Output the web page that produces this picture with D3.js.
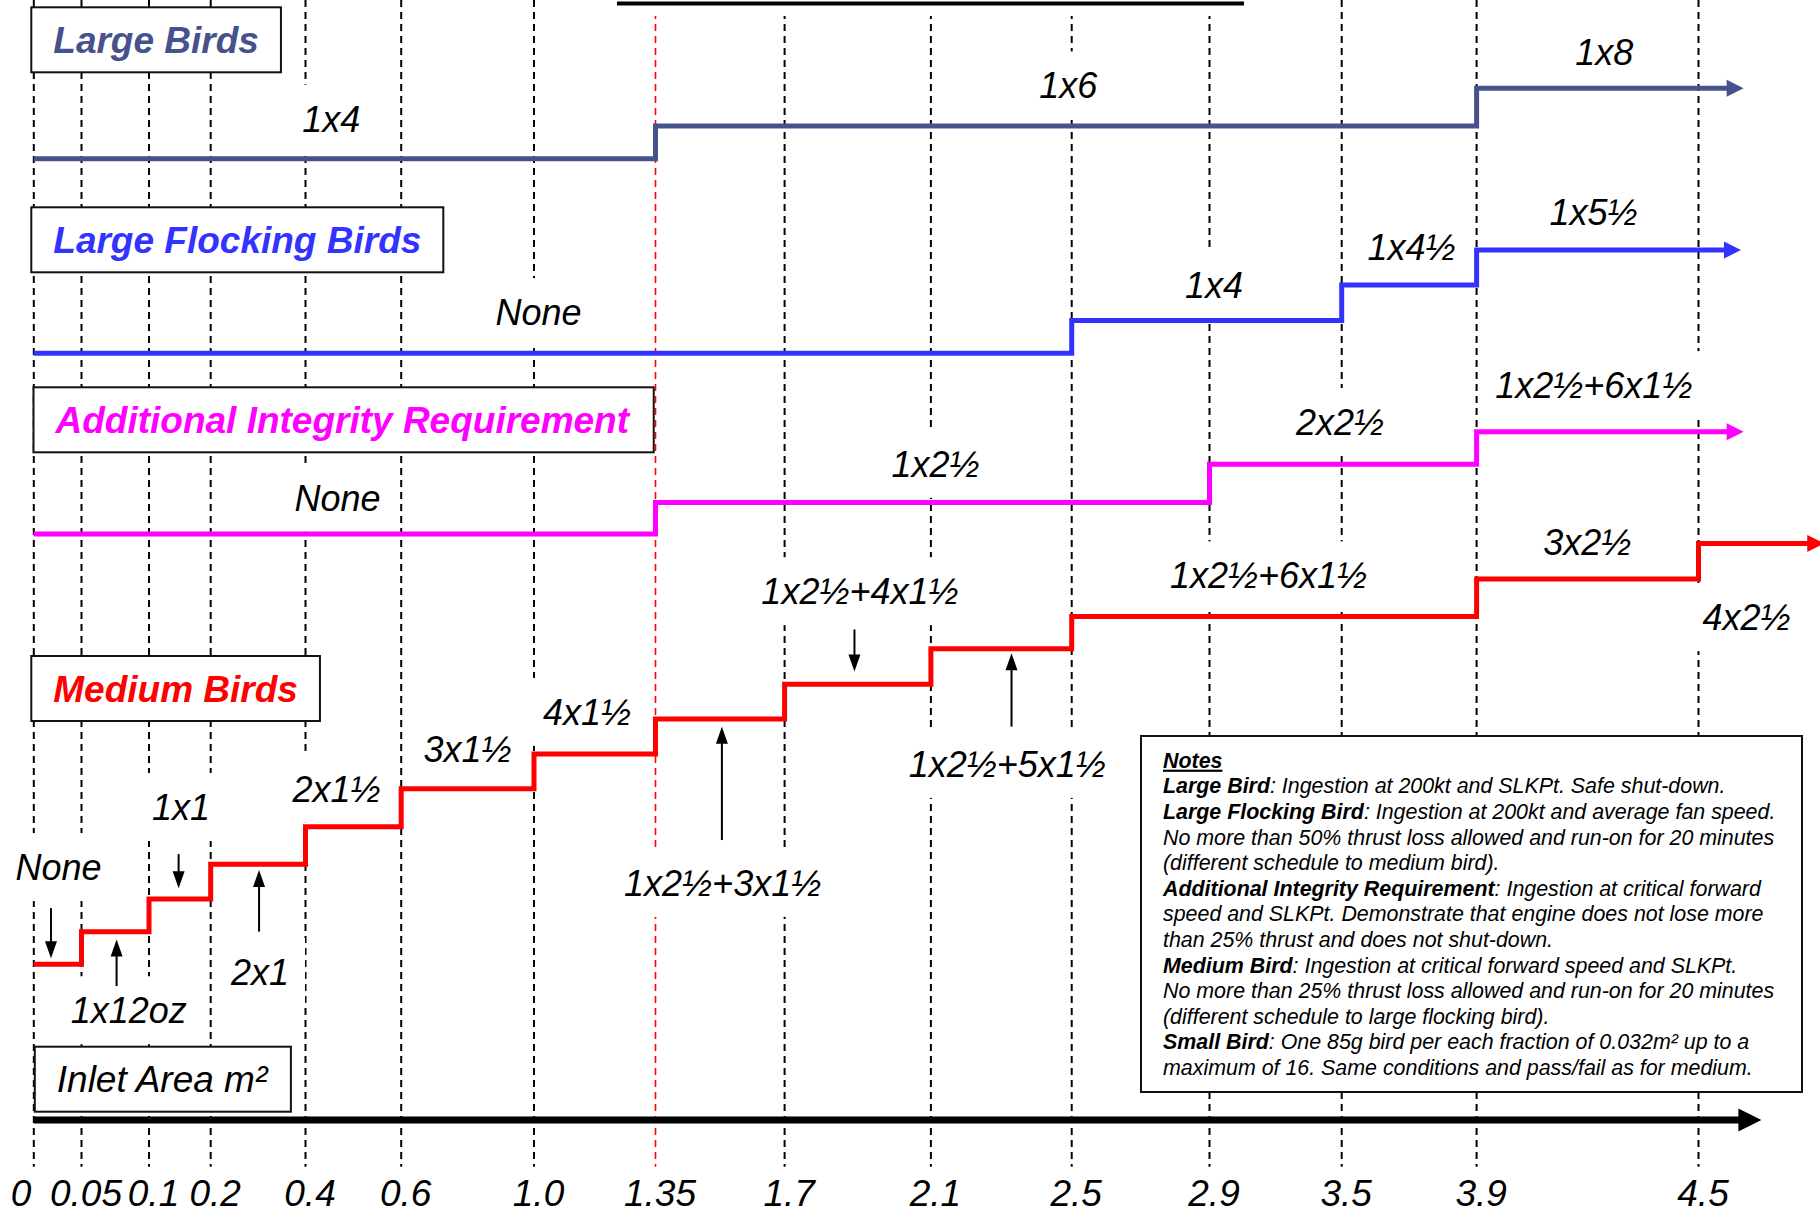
<!DOCTYPE html>
<html>
<head>
<meta charset="utf-8">
<script src="https://cdn.jsdelivr.net/npm/d3@7"></script>
<style>
html,body{margin:0;padding:0;background:#fff;}
svg{display:block;font-family:"Liberation Sans",Arial,sans-serif;}
</style>
</head>
<body>
<svg id="chart" width="1820" height="1218"></svg>
<script>
// ---------------- DATA ----------------
// Inlet area ticks (m²)
const areaTicks = [0, 0.05, 0.1, 0.2, 0.4, 0.6, 1.0, 1.35, 1.7, 2.1, 2.5, 2.9, 3.5, 3.9, 4.5];
const areaTickLabels = ["0", "0.05", "0.1", "0.2", "0.4", "0.6", "1.0", "1.35", "1.7", "2.1", "2.5", "2.9", "3.5", "3.9", "4.5"];
const highlightTick = 1.35;

// Step series: x = inlet area where the step starts, level = schematic level (arbitrary units)
const largeBirdX      = [0, 1.35, 3.9];
const largeBirdLevel  = [22.95, 23.88, 24.96];
const largeBirdEnd    = 4.622;

const flockingX       = [0, 2.5, 3.5, 3.9];
const flockingLevel   = [17.41, 18.34, 19.35, 20.35];
const flockingEnd     = 4.615;

const integrityX      = [0, 1.35, 2.9, 3.9];
const integrityLevel  = [12.26, 13.16, 14.25, 15.17];
const integrityEnd    = 4.622;

const mediumX         = [0, 0.05, 0.1, 0.2, 0.4, 0.6, 1.0, 1.35, 1.7, 2.1, 2.5, 3.9, 4.5];
const mediumLevel     = [0, 0.93, 1.86, 2.85, 3.92, 5.0, 5.99, 6.99, 7.98, 8.99, 9.91, 10.98, 11.99];
const mediumEnd       = 4.84;

// Step requirement labels (text, inlet area, level)
const stepLabelText  = ["1x4","1x6","1x8",
                        "None","1x4","1x4½","1x5½",
                        "None","1x2½","2x2½","1x2½+6x1½",
                        "None","1x12oz","1x1","2x1","2x1½","3x1½","4x1½",
                        "1x2½+3x1½","1x2½+4x1½","1x2½+5x1½","1x2½+6x1½","3x2½","4x2½"];
const stepLabelArea  = [0.454, 2.49, 4.245,
                        1.013, 2.92, 3.707, 4.216,
                        0.467, 2.113, 3.492, 4.217,
                        0.026, 0.085, 0.152, 0.304, 0.465, 0.8, 1.153,
                        1.532, 1.906, 2.317, 3.168, 4.199, 4.63];
const stepLabelLevel = [23.72, 24.67, 25.62,
                        18.21, 18.97, 20.07, 21.06,
                        12.92, 13.89, 15.08, 16.13,
                        2.40, -1.68, 4.11, -0.59, 4.63, 5.77, 6.82,
                        1.95, 10.26, 5.34, 10.71, 11.66, 9.52];

// Pointer arrows (inlet area, from level, to level)
const pointerArea = [0.018, 0.076, 0.148, 0.302, 1.530, 1.891, 2.329];
const pointerFrom = [1.60, -0.62, 3.14, 0.93, 3.54, 9.54, 6.77];
const pointerTo   = [0.17, 0.71, 2.17, 2.69, 6.77, 8.34, 8.86];

const axisEnd = 4.67;

const seriesNames = ["Large Birds", "Large Flocking Birds", "Additional Integrity Requirement", "Medium Birds"];
const axisTitle = "Inlet Area m²";

const notesLines = [
  [["Notes", "t"]],
  [["Large Bird", "b"], [": Ingestion at 200kt and SLKPt. Safe shut-down.", ""]],
  [["Large Flocking Bird", "b"], [": Ingestion at 200kt and average fan speed.", ""]],
  [["No more than 50% thrust loss allowed and run-on for 20 minutes", ""]],
  [["(different schedule to medium bird).", ""]],
  [["Additional Integrity Requirement", "b"], [": Ingestion at critical forward", ""]],
  [["speed and SLKPt. Demonstrate that engine does not lose more", ""]],
  [["than 25% thrust and does not shut-down.", ""]],
  [["Medium Bird", "b"], [": Ingestion at critical forward speed and SLKPt.", ""]],
  [["No more than 25% thrust loss allowed and run-on for 20 minutes", ""]],
  [["(different schedule to large flocking bird).", ""]],
  [["Small Bird", "b"], [": One 85g bird per each fraction of 0.032m² up to a", ""]],
  [["maximum of 16. Same conditions and pass/fail as for medium.", ""]]
];

// ---------------- LAYOUT / STYLE ----------------
const FONT = "'Liberation Sans', Arial, sans-serif";
const colors = ["#47528c", "#3333ff", "#ff00ff", "#ff0000"];
// uneven schematic spacing of the inlet-area axis
const xRange = [33.8, 81.5, 149, 210.7, 305.5, 401.2, 534, 655.5, 784.6, 930.9, 1071.7, 1209.5, 1341.7, 1476.6, 1698.5];
const gridTop = 0, gridBottom = 1166.7, axisY = 1120, tickBaseline = 1206;
const boxLayout = [
  {x: 31.3, y: 7.3}, {x: 31.3, y: 207.3}, {x: 33.5, y: 387.3}, {x: 31.3, y: 656}
];
const axisTitleBox = {x: 34.8, y: 1046.7};
const notesBox = {x: 1141, y: 736, w: 661, h: 356, tx: 1163, ty: 767.7, pitch: 25.6, fs: 21.4};
const titleRule = {x1: 617, x2: 1244, y: 3.5};

const x = d3.scaleLinear().domain(areaTicks).range(xRange);
const y = d3.scaleLinear().domain([0, 25]).range([964.3, 86.8]);

const svg = d3.select("#chart");
svg.append("rect").attr("width", 1820).attr("height", 1218).attr("fill", "#fff");

const gGrid = svg.append("g");
const gBg = svg.append("g");
const gBoxes = svg.append("g");
const gLines = svg.append("g");
const gText = svg.append("g");

// ---- grid lines
gGrid.selectAll("line").data(areaTicks).join("line")
  .attr("x1", d => x(d)).attr("x2", d => x(d))
  .attr("y1", gridTop).attr("y2", gridBottom)
  .attr("stroke", d => d === highlightTick ? "#ff0000" : "#000")
  .attr("stroke-width", d => d === highlightTick ? 1.6 : 2)
  .attr("stroke-dasharray", "7,5");

// ---- title rule (title itself is cropped off the top)
gBg.append("rect").attr("x", titleRule.x1).attr("y", 0)
  .attr("width", titleRule.x2 - titleRule.x1).attr("height", 16).attr("fill", "#fff");
gLines.append("line").attr("x1", titleRule.x1).attr("x2", titleRule.x2)
  .attr("y1", titleRule.y).attr("y2", titleRule.y).attr("stroke", "#000").attr("stroke-width", 4);

// ---- step labels with white backgrounds
const stepLabels = stepLabelText.map((t, i) => ({t, a: stepLabelArea[i], v: stepLabelLevel[i]}));
const lab = gText.selectAll("text.step").data(stepLabels).join("text")
  .attr("class", "step")
  .attr("x", d => x(d.a)).attr("y", d => y(d.v))
  .attr("text-anchor", "middle")
  .style("font-family", FONT).style("font-style", "italic").style("font-size", "36px")
  .attr("fill", "#000")
  .text(d => d.t);
lab.each(function() {
  const bb = this.getBBox();
  gBg.append("rect").attr("x", bb.x - 16).attr("y", bb.y - 14)
    .attr("width", bb.width + 32).attr("height", bb.height + 27).attr("fill", "#fff");
});

// ---- series boxes
const series = [
  {xs: largeBirdX, vs: largeBirdLevel, end: largeBirdEnd},
  {xs: flockingX, vs: flockingLevel, end: flockingEnd},
  {xs: integrityX, vs: integrityLevel, end: integrityEnd},
  {xs: mediumX, vs: mediumLevel, end: mediumEnd}
];
function addBox(text, pos, color, weight) {
  const t = gText.append("text")
    .attr("x", pos.x + 22).attr("y", pos.y + 45.5)
    .style("font-family", FONT).style("font-style", "italic")
    .style("font-weight", weight).style("font-size", "37px")
    .attr("fill", color).text(text);
  const bb = t.node().getBBox();
  gBoxes.append("rect").attr("x", pos.x).attr("y", pos.y)
    .attr("width", bb.width + 44).attr("height", 65)
    .attr("fill", "#fff").attr("stroke", "#111").attr("stroke-width", 2);
}
seriesNames.forEach((n, i) => addBox(n, boxLayout[i], colors[i], "bold"));
addBox(axisTitle, axisTitleBox, "#000", "normal");

// ---- notes box
gBoxes.append("rect").attr("x", notesBox.x).attr("y", notesBox.y)
  .attr("width", notesBox.w).attr("height", notesBox.h)
  .attr("fill", "#fff").attr("stroke", "#111").attr("stroke-width", 2);
notesLines.forEach((segs, i) => {
  const t = gText.append("text")
    .attr("x", notesBox.tx).attr("y", notesBox.ty + i * notesBox.pitch)
    .style("font-family", FONT).style("font-style", "italic").style("font-size", notesBox.fs + "px")
    .attr("fill", "#000");
  segs.forEach(([s, k]) => {
    const ts = t.append("tspan").text(s);
    if (k === "b" || k === "t") ts.style("font-weight", "bold");
    if (k === "t") ts.style("text-decoration", "underline");
  });
});

// ---- x axis arrow
const axHead = 23;
gLines.append("line").attr("x1", x(0)).attr("x2", x(axisEnd) - axHead + 1)
  .attr("y1", axisY).attr("y2", axisY).attr("stroke", "#000").attr("stroke-width", 7);
gLines.append("path")
  .attr("d", `M${x(axisEnd)},${axisY}L${x(axisEnd) - axHead},${axisY - 11.5}L${x(axisEnd) - axHead},${axisY + 11.5}Z`)
  .attr("fill", "#000");

// ---- step lines
const head = 17;
const stepLine = d3.line().curve(d3.curveStepAfter);
series.forEach((s, i) => {
  const last = s.vs[s.vs.length - 1];
  const tip = x(s.end);
  const pts = s.xs.map((xi, j) => [x(xi), y(s.vs[j])]);
  pts.push([tip - head + 1, y(last)]);
  gLines.append("path").attr("d", stepLine(pts))
    .attr("fill", "none").attr("stroke", colors[i]).attr("stroke-width", 5)
    .attr("stroke-linejoin", "miter");
  gLines.append("path")
    .attr("d", `M${tip},${y(last)}L${tip - head},${y(last) - 8.5}L${tip - head},${y(last) + 8.5}Z`)
    .attr("fill", colors[i]);
});

// ---- pointer arrows
const pHead = 17, pHalf = 6;
pointerArea.forEach((a, i) => {
  const px = x(a), y0 = y(pointerFrom[i]), y1 = y(pointerTo[i]);
  const dir = y1 > y0 ? 1 : -1;
  gLines.append("line").attr("x1", px).attr("x2", px)
    .attr("y1", y0).attr("y2", y1 - dir * (pHead - 1))
    .attr("stroke", "#000").attr("stroke-width", 2);
  gLines.append("path")
    .attr("d", `M${px},${y1}L${px - pHalf},${y1 - dir * pHead}L${px + pHalf},${y1 - dir * pHead}Z`)
    .attr("fill", "#000");
});

// ---- tick labels via axis
const axisG = svg.append("g").attr("transform", `translate(0,${tickBaseline})`)
  .call(d3.axisBottom(x).tickValues(areaTicks)
    .tickFormat(d => areaTickLabels[areaTicks.indexOf(d)])
    .tickSize(0).tickPadding(0));
axisG.select(".domain").remove();
axisG.selectAll(".tick line").remove();
axisG.selectAll(".tick text")
  .attr("y", 0).attr("dy", null)
  .attr("dx", d => d === 0 ? -3 : 4)
  .attr("text-anchor", d => d === 0 ? "end" : "middle")
  .style("font-family", FONT).style("font-style", "italic").style("font-size", "37px")
  .attr("fill", "#000");
</script>
</body>
</html>
